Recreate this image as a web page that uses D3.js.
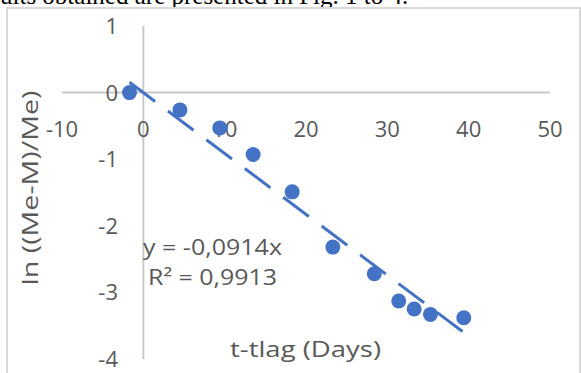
<!DOCTYPE html>
<html>
<head>
<meta charset="utf-8">
<script src="https://cdn.jsdelivr.net/npm/d3@7"></script>
<style>
  body { margin: 0; background: #fff; }
  svg { display: block; }
</style>
</head>
<body>
<div id="chart"></div>
<script>
// measured points (t - tlag in days, ln((Me-M)/Me))
const tDays = [-1.7, 4.5, 9.4, 13.5, 18.3, 23.3, 28.4, 31.4, 33.3, 35.3, 39.4]
const lnRatio = [0, -0.26, -0.53, -0.93, -1.49, -2.32, -2.72, -3.13, -3.25, -3.33, -3.38]
const xTicks = [-10, 0, 10, 20, 30, 40, 50]
const yTicks = [-4, -3, -2, -1, 0, 1]
const slope = -0.0914
const eqLabels = ['y = -0,0914x', 'R² = 0,9913']

const W = 581, H = 373
const FONT = '"Open Sans", sans-serif'
const GREY = '#595959'
const BLUE = '#4472C4'

const svg = d3.select('#chart').append('svg')
    .attr('width', W)
    .attr('height', H)

// clipped line of document text above the figure
svg.append('text')
    .attr('x', 0)
    .attr('y', 4)
    .attr('font-family', '"Liberation Serif", serif')
    .attr('font-size', 25)
    .attr('fill', '#000')
    .text('ults obtained are presented in Fig. 1 to 4.')

// chart area border
svg.append('rect')
    .attr('x', 7)
    .attr('y', 8)
    .attr('width', 573)
    .attr('height', 380)
    .attr('fill', 'none')
    .attr('stroke', '#d9d9d9')
    .attr('stroke-width', 2)

const x = d3.scaleLinear().domain([-10, 50]).range([62, 550])
const y = d3.scaleLinear().domain([-4, 1]).range([359, 26])

// axis lines crossing at the origin
svg.append('line')
    .attr('x1', x(-10)).attr('x2', x(50))
    .attr('y1', y(0)).attr('y2', y(0))
    .attr('stroke', '#c8c8c8').attr('stroke-width', 2)
svg.append('line')
    .attr('x1', x(0)).attr('x2', x(0))
    .attr('y1', y(1)).attr('y2', y(-4))
    .attr('stroke', '#c8c8c8').attr('stroke-width', 2)

// tick labels
svg.append('g').selectAll('text')
    .data(xTicks)
    .join('text')
    .attr('x', d => x(d))
    .attr('y', y(0) + 44)
    .attr('text-anchor', 'middle')
    .attr('font-family', FONT)
    .attr('font-size', 22)
    .attr('fill', GREY)
    .text(d => d)

svg.append('g').selectAll('text')
    .data(yTicks)
    .join('text')
    .attr('x', 118)
    .attr('y', d => y(d) + 8)
    .attr('text-anchor', 'end')
    .attr('font-family', FONT)
    .attr('font-size', 22)
    .attr('fill', GREY)
    .text(d => d)

// axis titles
svg.append('text')
    .attr('transform', `translate(38, ${ 188 }) rotate(-90)`)
    .attr('text-anchor', 'middle')
    .attr('font-family', FONT)
    .attr('font-size', 21)
    .attr('fill', GREY)
    .attr('textLength', 195)
    .attr('lengthAdjust', 'spacingAndGlyphs')
    .text('ln ((Me-M)/Me)')

svg.append('text')
    .attr('x', 230)
    .attr('y', 357)
    .attr('font-family', FONT)
    .attr('font-size', 22)
    .attr('fill', GREY)
    .attr('textLength', 151)
    .attr('lengthAdjust', 'spacingAndGlyphs')
    .text('t-tlag (Days)')

// points
svg.append('g').selectAll('circle')
    .data(tDays.map((t, i) => [t, lnRatio[i]]))
    .join('circle')
    .attr('cx', d => x(d[0]))
    .attr('cy', d => y(d[1]))
    .attr('r', 7.5)
    .attr('fill', BLUE)

// linear trend through the origin
const tExt = d3.extent(tDays)
svg.append('line')
    .attr('x1', x(tExt[0])).attr('y1', y(slope * tExt[0]))
    .attr('x2', x(tExt[1])).attr('y2', y(slope * tExt[1]))
    .attr('stroke', BLUE)
    .attr('stroke-width', 3)
    .attr('stroke-dasharray', '32 16')

// trend equation
const eqX = [143, 148], eqLen = [139, 129]
svg.append('g').selectAll('text')
    .data(eqLabels)
    .join('text')
    .attr('x', (d, i) => eqX[i])
    .attr('y', (d, i) => 255 + i * 30)
    .attr('font-family', FONT)
    .attr('font-size', 21)
    .attr('fill', GREY)
    .attr('textLength', (d, i) => eqLen[i])
    .attr('lengthAdjust', 'spacingAndGlyphs')
    .text(d => d)
</script>
</body>
</html>
